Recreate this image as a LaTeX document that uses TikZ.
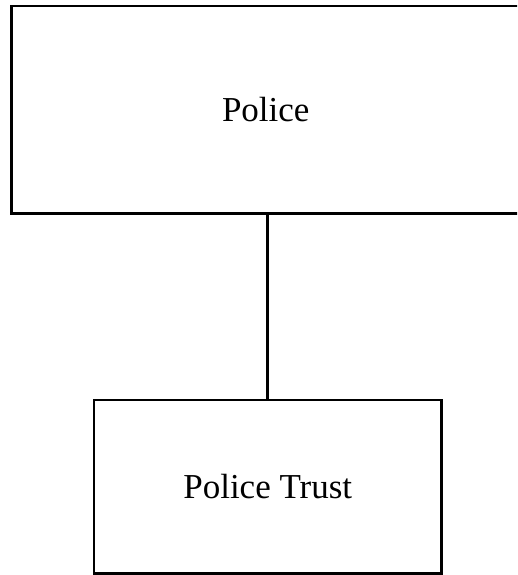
\documentclass[tikz,border=0pt]{standalone}
\usepackage{fontspec}
\setmainfont{Liberation Serif}
\usepackage{tikz}

\begin{document}
\begin{tikzpicture}[box/.style = {draw, line width=2.6pt, rectangle, font=\fontsize{35}{40}\selectfont, inner sep=0pt}]
            \useasboundingbox (0,0) rectangle (517pt,-575pt);
            \clip (0,0) rectangle (517pt,-575pt);
            \node[box, minimum width=508pt, minimum height=207.5pt] (police) at (265.75pt,-109.75pt) {Police};
            \node[box, minimum width=347.5pt, minimum height=173.5pt] (trust) at (267.75pt,-486.75pt) {Police Trust};

            \draw[line width=2.6pt] (trust.north |- police.south) -- (trust.north);
        \end{tikzpicture}
\end{document}
